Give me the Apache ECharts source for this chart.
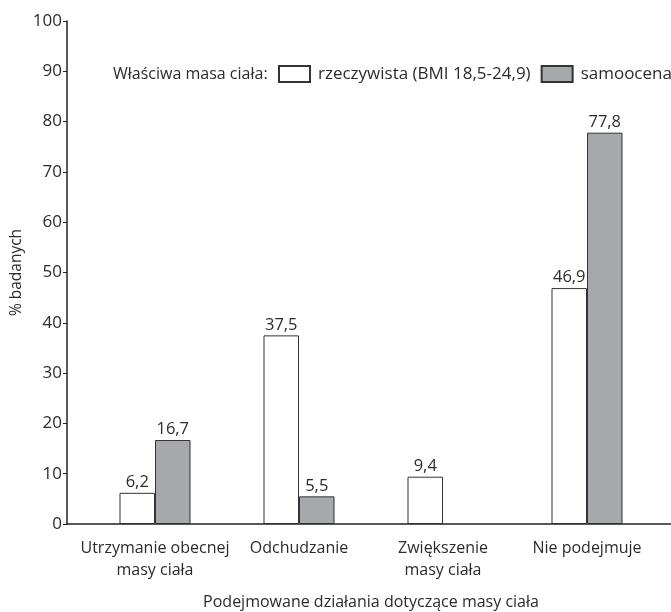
<!DOCTYPE html>
<html>
<head>
<meta charset="utf-8">
<script src="https://cdn.jsdelivr.net/npm/echarts@6/dist/echarts.min.js"></script>
<style>html,body{margin:0;padding:0;background:#fff}#c{width:671px;height:612px}</style>
</head>
<body>
<div id="c"></div>
<script>
const categories = ['Utrzymanie obecnej\nmasy ciała', 'Odchudzanie', 'Zwiększenie\nmasy ciała', 'Nie podejmuje'];
const seriesNames = ['rzeczywista (BMI 18,5-24,9)', 'samoocena'];
const rzeczywista = [6.2, 37.5, 9.4, 46.9];
const samoocena = [16.7, 5.5, '-', 77.8];
const yTicks = { min: 0, max: 100, interval: 10 };
const legendPrefix = 'Właściwa masa ciała:';
const yTitle = '% badanych';
const xTitle = 'Podejmowane działania dotyczące masy ciała';

const FONT = 'Open Sans';
const TXT = '#2b2b2b';
const chart = echarts.init(document.getElementById('c'), null, { renderer: 'canvas' });
const lbl = {
  show: true, position: 'top', distance: 2, fontFamily: FONT, fontSize: 16.5, color: TXT,
  formatter: p => String(p.value).replace('.', ',')
};
chart.setOption({
  animation: false,
  backgroundColor: '#fff',
  title: {
    text: legendPrefix, left: 108, top: 61,
    textStyle: { fontFamily: FONT, fontSize: 16, fontWeight: 'normal', color: TXT }
  },
  legend: {
    left: 273, top: 60, width: 420, itemWidth: 31, itemHeight: 16, itemGap: 10,
    icon: 'rect', orient: 'horizontal',
    data: seriesNames,
    textStyle: { fontFamily: FONT, fontSize: 17, color: TXT, padding: [0, 0, 0, 3] }
  },
  grid: [
    { left: 83, right: 12, top: 21, bottom: 88, outerBoundsMode: 'none', containLabel: false },
    { left: 67, right: 0, top: 21, bottom: 88, outerBoundsMode: 'none', containLabel: false }
  ],
  xAxis: [
    {
      type: 'category', gridIndex: 0, data: categories,
      axisLine: { show: false }, axisTick: { show: false },
      axisLabel: { fontFamily: FONT, fontSize: 16, color: TXT, margin: 13, lineHeight: 22, interval: 0 },
      name: xTitle, nameLocation: 'middle', nameGap: 70, nameMoveOverlap: false,
      nameTextStyle: { fontFamily: FONT, fontSize: 16, color: TXT }
    },
    {
      type: 'value', gridIndex: 1, min: 0, max: 1,
      axisLine: { show: true, lineStyle: { color: '#222', width: 1.5 } },
      axisTick: { show: false }, axisLabel: { show: false }, splitLine: { show: false }
    }
  ],
  yAxis: [
    {
      type: 'value', gridIndex: 0, min: yTicks.min, max: yTicks.max, interval: yTicks.interval,
      offset: 16,
      axisLine: { show: true, lineStyle: { color: '#222', width: 1.5 } },
      axisTick: { show: true, length: 4, lineStyle: { color: '#222', width: 1 } },
      axisLabel: { fontFamily: FONT, fontSize: 17, color: TXT, margin: 5 },
      splitLine: { show: false },
      name: yTitle, nameLocation: 'middle', nameGap: 42, nameRotate: 90, nameMoveOverlap: false,
      nameTextStyle: { fontFamily: FONT, fontSize: 15.5, color: TXT }
    },
    { type: 'value', gridIndex: 1, show: false }
  ],
  series: [
    {
      name: seriesNames[0], type: 'bar', data: rzeczywista, barWidth: 35.5, barGap: '0%',
      itemStyle: { color: '#ffffff', borderColor: '#333', borderWidth: 1 },
      label: lbl
    },
    {
      name: seriesNames[1], type: 'bar', data: samoocena, barWidth: 35.5, barGap: '0%',
      itemStyle: { color: '#a7a8ab', borderColor: '#333', borderWidth: 1 },
      label: lbl
    }
  ]
});
</script>
</body>
</html>
